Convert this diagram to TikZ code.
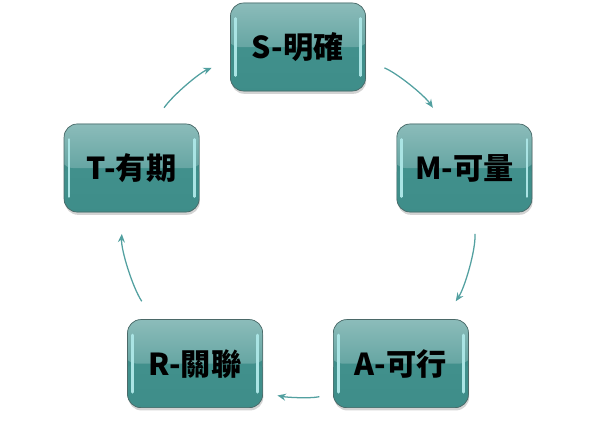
\documentclass[tikz,border=0pt]{standalone}
\usepackage{fontspec}
\setmainfont{Noto Sans CJK TC}
\usetikzlibrary{positioning}
\usetikzlibrary{arrows.meta}
\usetikzlibrary{shadows}
\definecolor{tealtop}{RGB}{143,190,188}
\definecolor{tealmid}{RGB}{102,166,163}
\definecolor{tealbot}{RGB}{62,141,137}
\definecolor{tealdeep}{RGB}{68,147,143}
\definecolor{tealedge}{RGB}{75,105,104}
\definecolor{tealglow}{RGB}{170,228,228}
\definecolor{linkteal}{RGB}{82,160,160}

\begin{document}
\begin{tikzpicture}
    [x=0.025cm, y=0.025cm,
    stage/.style={rectangle, rounded corners=0.33cm, draw=tealedge, fill=tealbot, line width=0.5pt,
        minimum width=3.375cm, minimum height=2.2cm, inner sep=0pt,
        font=\fontsize{21.5}{26}\selectfont\bfseries,
        drop shadow={shadow xshift=0.5pt, shadow yshift=-2pt, opacity=0.35},
        path picture={
          \shade[top color=tealdeep, bottom color=tealbot]
            ([xshift=-3pt, yshift=-3pt]path picture bounding box.south west)
            rectangle ([xshift=3pt]path picture bounding box.east);
          \shade[top color=tealtop, bottom color=tealmid]
            ([xshift=-3pt]path picture bounding box.west)
            rectangle ([xshift=3pt, yshift=3pt]path picture bounding box.north east);
          \draw[tealglow, line width=2pt, line cap=round]
            ([xshift=3.5pt, yshift=11pt]path picture bounding box.south west)
            -- ([xshift=3.5pt, yshift=-11pt]path picture bounding box.north west);
          \draw[tealglow, line width=2pt, line cap=round]
            ([xshift=-3.5pt, yshift=11pt]path picture bounding box.south east)
            -- ([xshift=-3.5pt, yshift=-11pt]path picture bounding box.north east);
        }},
    link/.style={-{Stealth[length=6pt, width=5pt, inset=2pt]}, linkteal, line width=0.9pt,
        looseness=0.87}]
    \useasboundingbox (0,0) rectangle (596,443);
    \node[stage] (S) at (298,396)     {S-明確};
    \node[stage] (M) at (464.4,275)   {M-可量};
    \node[stage] (A) at (400.9,79.4)  {A-可行};
    \node[stage] (R) at (195.1,79.4)  {R-關聯};
    \node[stage] (T) at (131.6,275)   {T-有期};
    \draw[link, shorten <=0.5cm, shorten >=0.48cm]  (S.-11.2)  to[out=-22.5, in=124.3] (M.115.7);
    \draw[link, shorten <=0.54cm, shorten >=0.54cm] (M.-78.9)  to[out=-86.9, in=56.3]  (A.46.2);
    \draw[link, shorten <=0.35cm, shorten >=0.37cm] (A.-156.1) to[out=-168.1, in=-11.9] (R.-23.9);
    \draw[link, shorten <=0.54cm, shorten >=0.54cm] (R.133.8)  to[out=123.7, in=-93.1]  (T.-101.1);
    \draw[link, shorten <=0.48cm, shorten >=0.5cm]  (T.64.3)   to[out=55.7, in=202.5]  (S.191.2);
\end{tikzpicture}
\end{document}
